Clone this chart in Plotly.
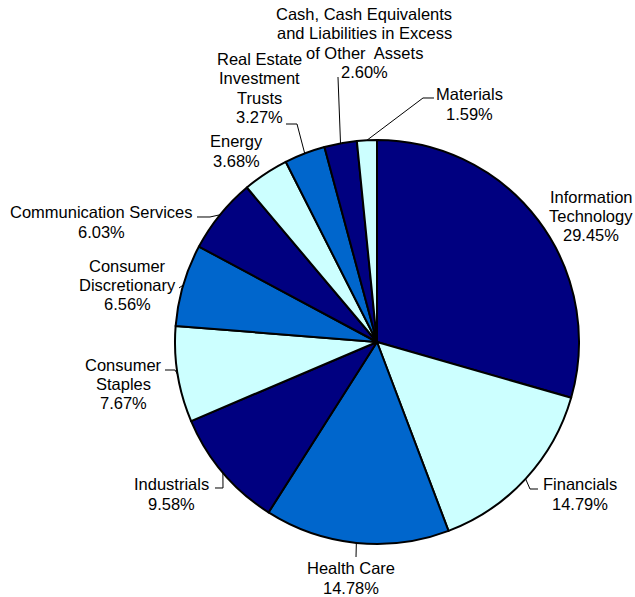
import math
import plotly.graph_objects as go

# ---- data ----
sectors = [
    "Information Technology", "Financials", "Health Care", "Industrials",
    "Consumer Staples", "Consumer Discretionary", "Communication Services",
    "Energy", "Real Estate Investment Trusts",
    "Cash, Cash Equivalents and Liabilities in Excess of Other  Assets",
    "Materials",
]
weights = [29.45, 14.79, 14.78, 9.58, 7.67, 6.56, 6.03, 3.68, 3.27, 2.60, 1.59]
label_lines = [
    ["Information", "Technology"],
    ["Financials"],
    ["Health Care"],
    ["Industrials"],
    ["Consumer", "Staples"],
    ["Consumer", "Discretionary"],
    ["Communication Services"],
    ["Energy"],
    ["Real Estate", "Investment", "Trusts"],
    ["Cash, Cash Equivalents", "and Liabilities in Excess", "of Other&nbsp; Assets"],
    ["Materials"],
]

# ---- style / layout config ----
W, H = 635, 597
NAVY, BLUE, CYAN = "#000080", "#0066CC", "#CCFFFF"
colors = [NAVY, CYAN, BLUE, NAVY, CYAN, BLUE, NAVY, CYAN, BLUE, NAVY, CYAN]
CX, CY, R = 377, 342, 202  # pie centre / radius in pixels
FONT = dict(family="Liberation Sans, Arial, sans-serif", size=16.5, color="black")
LINE_H = 19.3

# label block centre (px) and leader elbow points (px) from the text toward the slice
label_pos = [
    (591, 216), (580, 494), (351, 578), (171, 494), (123, 384), (127, 285),
    (101, 222), (236, 151), (259, 88), (364, 43), (469, 104),
]
leaders = [
    None,
    [(538, 489), (530, 489)],
    [(356, 557)],
    [(215, 488), (223, 488)],
    [(165, 370), (175, 370)],
    [(179, 288)],
    [(197, 217), (210, 217)],
    None,
    [(286, 124), (297, 124)],
    [(338, 77)],
    [(434, 98), (423, 98)],
]


def px(x):
    return x / W


def py(y):
    return 1 - y / H


fig = go.Figure(
    go.Pie(
        labels=sectors,
        values=weights,
        sort=False,
        direction="clockwise",
        rotation=0,
        marker=dict(colors=colors, line=dict(color="black", width=2)),
        textinfo="none",
        hoverinfo="skip",
        showlegend=False,
        domain=dict(x=[px(CX - R), px(CX + R)], y=[py(CY + R), py(CY - R)]),
    )
)

total = sum(weights)
cum = 0.0
annotations = []
shapes = []
for i, w in enumerate(weights):
    mid = (cum + w / 2) / total * 2 * math.pi
    cum += w
    ax = CX + R * math.sin(mid)
    ay = CY - R * math.cos(mid)
    lx, ly = label_pos[i]
    lines = label_lines[i] + [f"{w:.2f}%"]
    n = len(lines)
    for k, t in enumerate(lines):
        yk = ly + (k - (n - 1) / 2) * LINE_H
        annotations.append(
            dict(
                x=px(lx), y=py(yk), xref="paper", yref="paper",
                text=t, showarrow=False, xanchor="center", yanchor="middle",
                font=FONT, align="center",
            )
        )
    if leaders[i]:
        pts = leaders[i] + [(ax, ay)]
        path = "M " + " L ".join(f"{px(x):.5f},{py(y):.5f}" for x, y in pts)
        shapes.append(
            dict(type="path", path=path, xref="paper", yref="paper",
                 line=dict(color="black", width=1))
        )

fig.update_layout(
    width=W, height=H,
    margin=dict(l=0, r=0, t=0, b=0),
    paper_bgcolor="white", plot_bgcolor="white",
    annotations=annotations, shapes=shapes,
    font=FONT,
)

fig.write_html("out.html")
